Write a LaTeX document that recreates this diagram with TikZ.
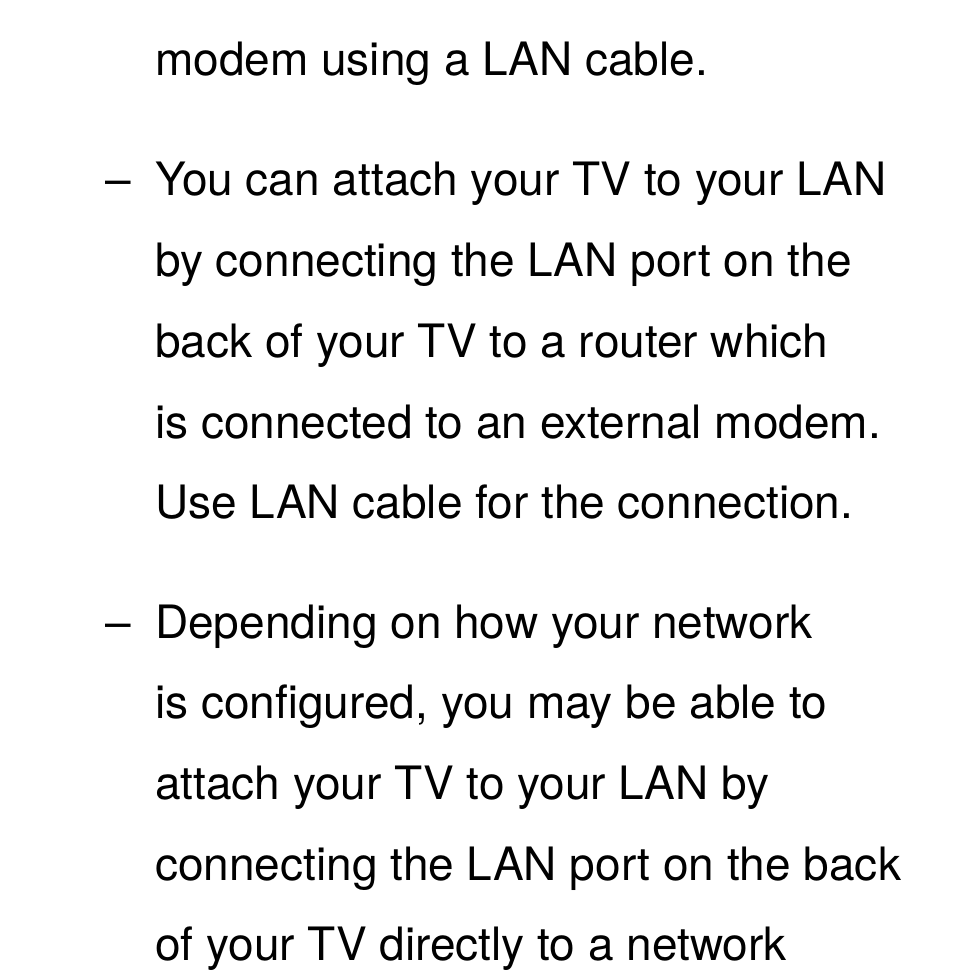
\documentclass[tikz,border=0pt]{standalone}
\usepackage{fontspec}
\setmainfont{TeX Gyre Heros}
\begin{document}
\begin{tikzpicture}[x=1pt,y=-1pt,txt/.style={anchor=base west,inner sep=0pt,font=\fontsize{46}{50}\selectfont}]
\useasboundingbox[fill=white] (0,0) rectangle (954,977);
\node[txt] (l1) at (155,75) {modem using a LAN cable.};
\node[txt] (d1) at (105,195) {–};
\node[txt] (l2) at (155,195) {You can attach your TV to your LAN};
\node[txt] (l3) at (155,276) {by connecting the LAN port on the};
\node[txt] (l4) at (155,357) {back of your TV to a router which};
\node[txt] (l5) at (155,438) {is connected to an external modem.};
\node[txt] (l6) at (155,518) {Use LAN cable for the connection.};
\node[txt] (d2) at (105,638) {–};
\node[txt] (l7) at (155,638) {Depending on how your network};
\node[txt] (l8) at (155,718) {is configured, you may be able to};
\node[txt] (l9) at (155,799) {attach your TV to your LAN by};
\node[txt] (l10) at (155,880) {connecting the LAN port on the back};
\node[txt] (l11) at (155,960) {of your TV directly to a network};
\end{tikzpicture}
\end{document}
